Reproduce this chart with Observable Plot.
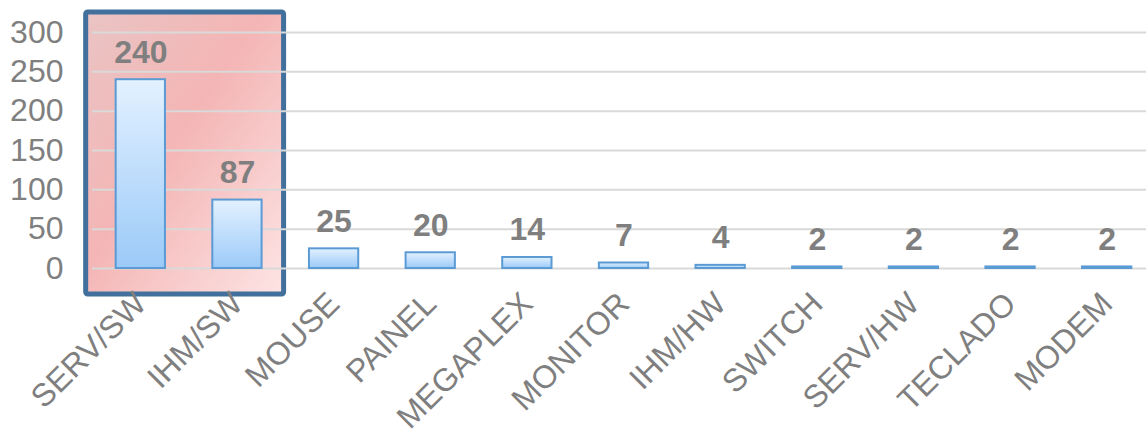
<!DOCTYPE html>
<html><head><meta charset="utf-8">
<script src="https://cdn.jsdelivr.net/npm/d3@7"></script>
<script src="https://cdn.jsdelivr.net/npm/@observablehq/plot@0.6"></script>
<style>
html,body{margin:0;padding:0;background:#fff;}
#chart{width:1146px;height:430px;overflow:hidden;}
</style>
</head><body><div id="chart"></div>
<script>
const categories = ["SERV/SW","IHM/SW","MOUSE","PAINEL","MEGAPLEX","MONITOR","IHM/HW","SWITCH","SERV/HW","TECLADO","MODEM"];
const values = [240,87,25,20,14,7,4,2,2,2,2];
const yTicks = [0,50,100,150,200,250,300];
const highlighted = ["SERV/SW","IHM/SW"];

const data = categories.map((c,i)=>({category:c, value:values[i]}));

function defs() {
  const g = d3.create("svg:defs");
  const bar = g.append("linearGradient").attr("id","barGrad").attr("x1",0).attr("y1",0).attr("x2",0).attr("y2",1);
  bar.append("stop").attr("offset","0%").attr("stop-color","#e3f1ff");
  bar.append("stop").attr("offset","100%").attr("stop-color","#9bcaf8");
  const hl = g.append("linearGradient").attr("id","hlGrad").attr("x1",0).attr("y1",0).attr("x2",1).attr("y2",1);
  hl.append("stop").attr("offset","0%").attr("stop-color","#eac4c4");
  hl.append("stop").attr("offset","45%").attr("stop-color","#f4b5b5");
  hl.append("stop").attr("offset","100%").attr("stop-color","#fde4e4");
  const f = g.append("filter").attr("id","shadow").attr("x","-20%").attr("y","-20%").attr("width","140%").attr("height","140%");
  f.append("feDropShadow").attr("dx",1).attr("dy",1).attr("stdDeviation",1).attr("flood-color","#000").attr("flood-opacity",0.25);
  return g.node();
}

function highlight(index, scales) {
  const x = scales.x, y = scales.y;
  const bw = typeof x.bandwidth === "function" ? x.bandwidth() : 49;
  const left = x(highlighted[0]) - 30;
  const right = x(highlighted[highlighted.length-1]) + bw + 22;
  const top = y(yTicks[yTicks.length-1]) - 20;
  const bottom = y(0) + 26;
  const g = d3.create("svg:g");
  g.append("rect")
    .attr("x", left).attr("y", top)
    .attr("width", right-left).attr("height", bottom-top)
    .attr("rx", 2)
    .attr("fill", "url(#hlGrad)")
    .attr("stroke", "#41709c")
    .attr("stroke-width", 5);
  return g.node();
}

const chart = Plot.plot({
  width: 1146,
  height: 430,
  marginLeft: 92,
  marginRight: 0,
  marginTop: 32,
  marginBottom: 162,
  style: {fontFamily: "'Liberation Sans', Arial, sans-serif", color: "#7f7f7f", background: "transparent", overflow: "visible"},
  x: {domain: categories, range: [92, 1155], paddingInner: 0.49, paddingOuter: 0.245, round: false},
  y: {domain: [0, 300]},
  marks: [
    defs,
    highlight,
    Plot.ruleY(yTicks, {stroke: "#d9d9d9", strokeWidth: 2}),
    Plot.barY(data, {x: "category", y: "value", fill: "url(#barGrad)", stroke: "#5b9bd5", strokeWidth: 2}),
    Plot.text(data, {x: "category", y: "value", text: d => String(d.value), dy: -17, lineAnchor: "bottom", fontWeight: "bold", fontSize: 32, fill: "#7f7f7f"}),
    Plot.axisY({ticks: yTicks, tickSize: 0, tickPadding: 29, fontSize: 32, label: null}),
    Plot.axisX({tickSize: 0, tickRotate: -45, tickPadding: 30, fontSize: 32, label: null})
  ]
});
chart.querySelectorAll("rect[fill='url(#barGrad)']").forEach(r => r.setAttribute("filter","url(#shadow)"));
document.getElementById("chart").appendChild(chart);
</script>
</body></html>
